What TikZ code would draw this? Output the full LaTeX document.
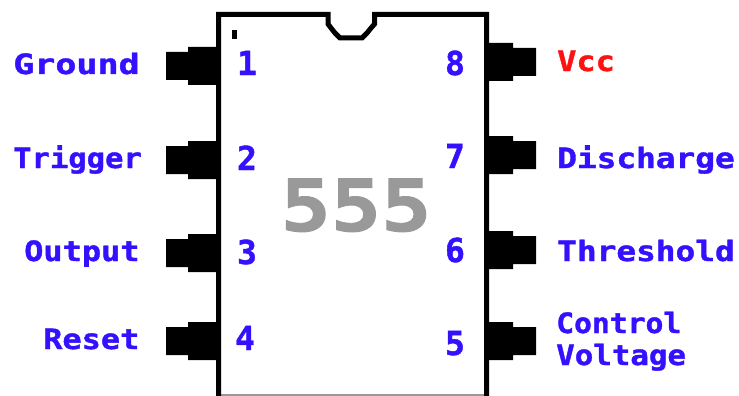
\documentclass[tikz,border=0pt]{standalone}
\usepackage{fontspec}
\setmainfont[BoldFeatures={FakeBold=1.2}]{DejaVu Sans Mono}
\definecolor{lab}{RGB}{51,17,255}
\definecolor{vcc}{RGB}{255,17,17}
\definecolor{num}{RGB}{153,153,153}
\newcommand{\lf}{\fontsize{28}{32}\selectfont\bfseries}
\newcommand{\nf}{\fontsize{33}{36}\selectfont\bfseries}
\tikzset{
 lbl/.style={inner sep=0pt,text=lab,font=\lf,anchor=base west},
 pinnum/.style={inner sep=0pt,text=lab,font=\nf,anchor=base},
 pinshape/.style={fill=black,draw=none},
}
\newcommand{\leftpin}[1]{\fill[pinshape] (216,#1-19) -- (188,#1-19) -- (188,#1-14) -- (166,#1-14) -- (166,#1+14) -- (188,#1+14) -- (188,#1+19) -- (216,#1+19) -- cycle;}
\newcommand{\rightpin}[1]{\fill[pinshape] (489,#1-19) -- (513,#1-19) -- (513,#1-14) -- (536,#1-14) -- (536,#1+14) -- (513,#1+14) -- (513,#1+19) -- (489,#1+19) -- cycle;}
\begin{document}
\begin{tikzpicture}[x=1pt,y=-1pt]
\useasboundingbox (0,0) rectangle (739,396);
\fill[white] (0,0) rectangle (739,396);
\draw[num,line width=1.5pt] (218,395.2) -- (487,395.2);
\draw[line width=5pt,miter limit=10] (218.5,396) -- (218.5,14.5) -- (328,14.5) -- (328,24) -- (331,28) -- (335,33) -- (340,38) -- (362,38) -- (367,33) -- (371,28) -- (374.5,24) -- (374.5,14.5) -- (486.5,14.5) -- (486.5,396);
\fill (232,30) rectangle (237,39);
\foreach \y in {66,160,253,341} {\leftpin{\y}}
\foreach \y in {62,155,250,341} {\rightpin{\y}}
\node[pinnum] (n1) at (247,75) {1};
\node[pinnum] (n2) at (247,170) {2};
\node[pinnum] (n3) at (247,264) {3};
\node[pinnum] (n4) at (245,350) {4};
\node[pinnum] (n8) at (455,75) {8};
\node[pinnum] (n7) at (455,168) {7};
\node[pinnum] (n6) at (455,262) {6};
\node[pinnum] (n5) at (455,355) {5};
\node[inner sep=0pt,text=num,font=\fontsize{72}{80}\selectfont\bfseries,anchor=base,xscale=1.16] (chip) at (356,231) {555};
\node[lbl,xscale=1.25] (ground) at (13,74) {Ground};
\node[lbl,xscale=1.09] (trigger) at (13,168) {Trigger};
\node[lbl,xscale=1.14] (output) at (24,261) {Output};
\node[lbl,xscale=1.14] (reset) at (43,349) {Reset};
\node[lbl,text=vcc,xscale=1.14] (vccl) at (557,71) {Vcc};
\node[lbl,xscale=1.17] (discharge) at (557,168) {Discharge};
\node[lbl,xscale=1.17] (threshold) at (557,261) {Threshold};
\node[lbl,xscale=1.06] (control) at (556,333) {Control};
\node[lbl,xscale=1.1] (voltage) at (556,365) {Voltage};
\end{tikzpicture}
\end{document}
